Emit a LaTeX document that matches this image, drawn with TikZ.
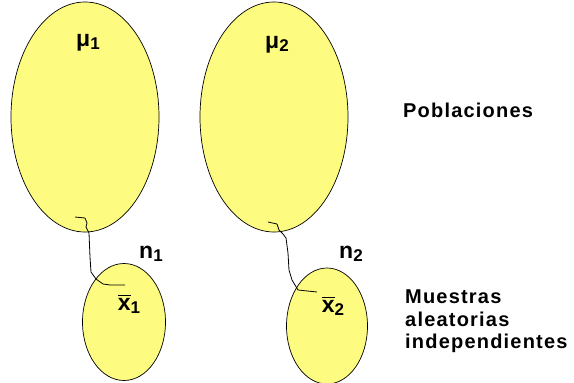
\documentclass[tikz,border=0pt]{standalone}
\usepackage{fontspec}
\setmainfont{Liberation Sans}
\newfontfamily\sidefont[LetterSpace=6]{Liberation Sans}
\usetikzlibrary{shapes.geometric}
\definecolor{pale}{RGB}{254,252,128}
\newcommand{\sbs}[1]{\raisebox{-3pt}{\fontsize{17}{17}\selectfont #1}}
\newcommand{\xbar}{\vbox{\hrule height 1.6pt\kern1.5pt\hbox{x}}}

\begin{document}
\begin{tikzpicture}[x=1pt,y=-1pt,
  font=\bfseries,
  pop/.style={ellipse,draw=black,line width=0.7pt,fill=pale,inner sep=0pt},
  sym/.style={inner sep=0pt,font=\fontsize{23}{23}\selectfont\bfseries},
  side/.style={inner sep=0pt,align=left,anchor=north west,
    font=\sidefont\bfseries\fontsize{20}{22.5}\selectfont},
  link/.style={line width=0.8pt,line join=round}
]
  \useasboundingbox (0,0) rectangle (574,383);

  % populations and samples
  \node[pop,minimum width=148,minimum height=230] (pop1) at (85,117) {};
  \node[pop,minimum width=148,minimum height=230] (pop2) at (274,117) {};
  \node[pop,minimum width=83,minimum height=117] (samp1) at (124,322) {};
  \node[pop,minimum width=81,minimum height=116] (samp2) at (327,326) {};

  % hand drawn links
  \coordinate (top1) at (75,217);
  \coordinate (end1) at (125,285);
  \coordinate (top2) at (268,222);
  \coordinate (end2) at (317,292);
  \draw[link] (top1) -- (85,218) -- (87,223) -- (86,227) -- (89,233)
    -- (90,257) -- (91,272) -- (96,279) -- (103,284) -- (110,285) -- (end1);
  \draw[link] (top2) -- (277,224) -- (279,230) -- (283,234) -- (286,238)
    -- (288,253) -- (289,270) -- (292,280) -- (298,290) -- (end2);

  % symbols
  \node[sym] (mu1) at (88,43) {μ\sbs{1}};
  \node[sym] (mu2) at (277,45) {μ\sbs{2}};
  \node[sym] (n1) at (151,254) {n\sbs{1}};
  \node[sym] (n2) at (351,254) {n\sbs{2}};
  \node[sym] (xb1) at (129,304) {\xbar\sbs{1}};
  \node[sym] (xb2) at (333,306) {\xbar\sbs{2}};

  % side labels
  \node[side] (pobl) at (403,103) {Poblaciones};
  \node[side] (mues) at (405,290) {Muestras\\aleatorias\\independientes};
\end{tikzpicture}
\end{document}
